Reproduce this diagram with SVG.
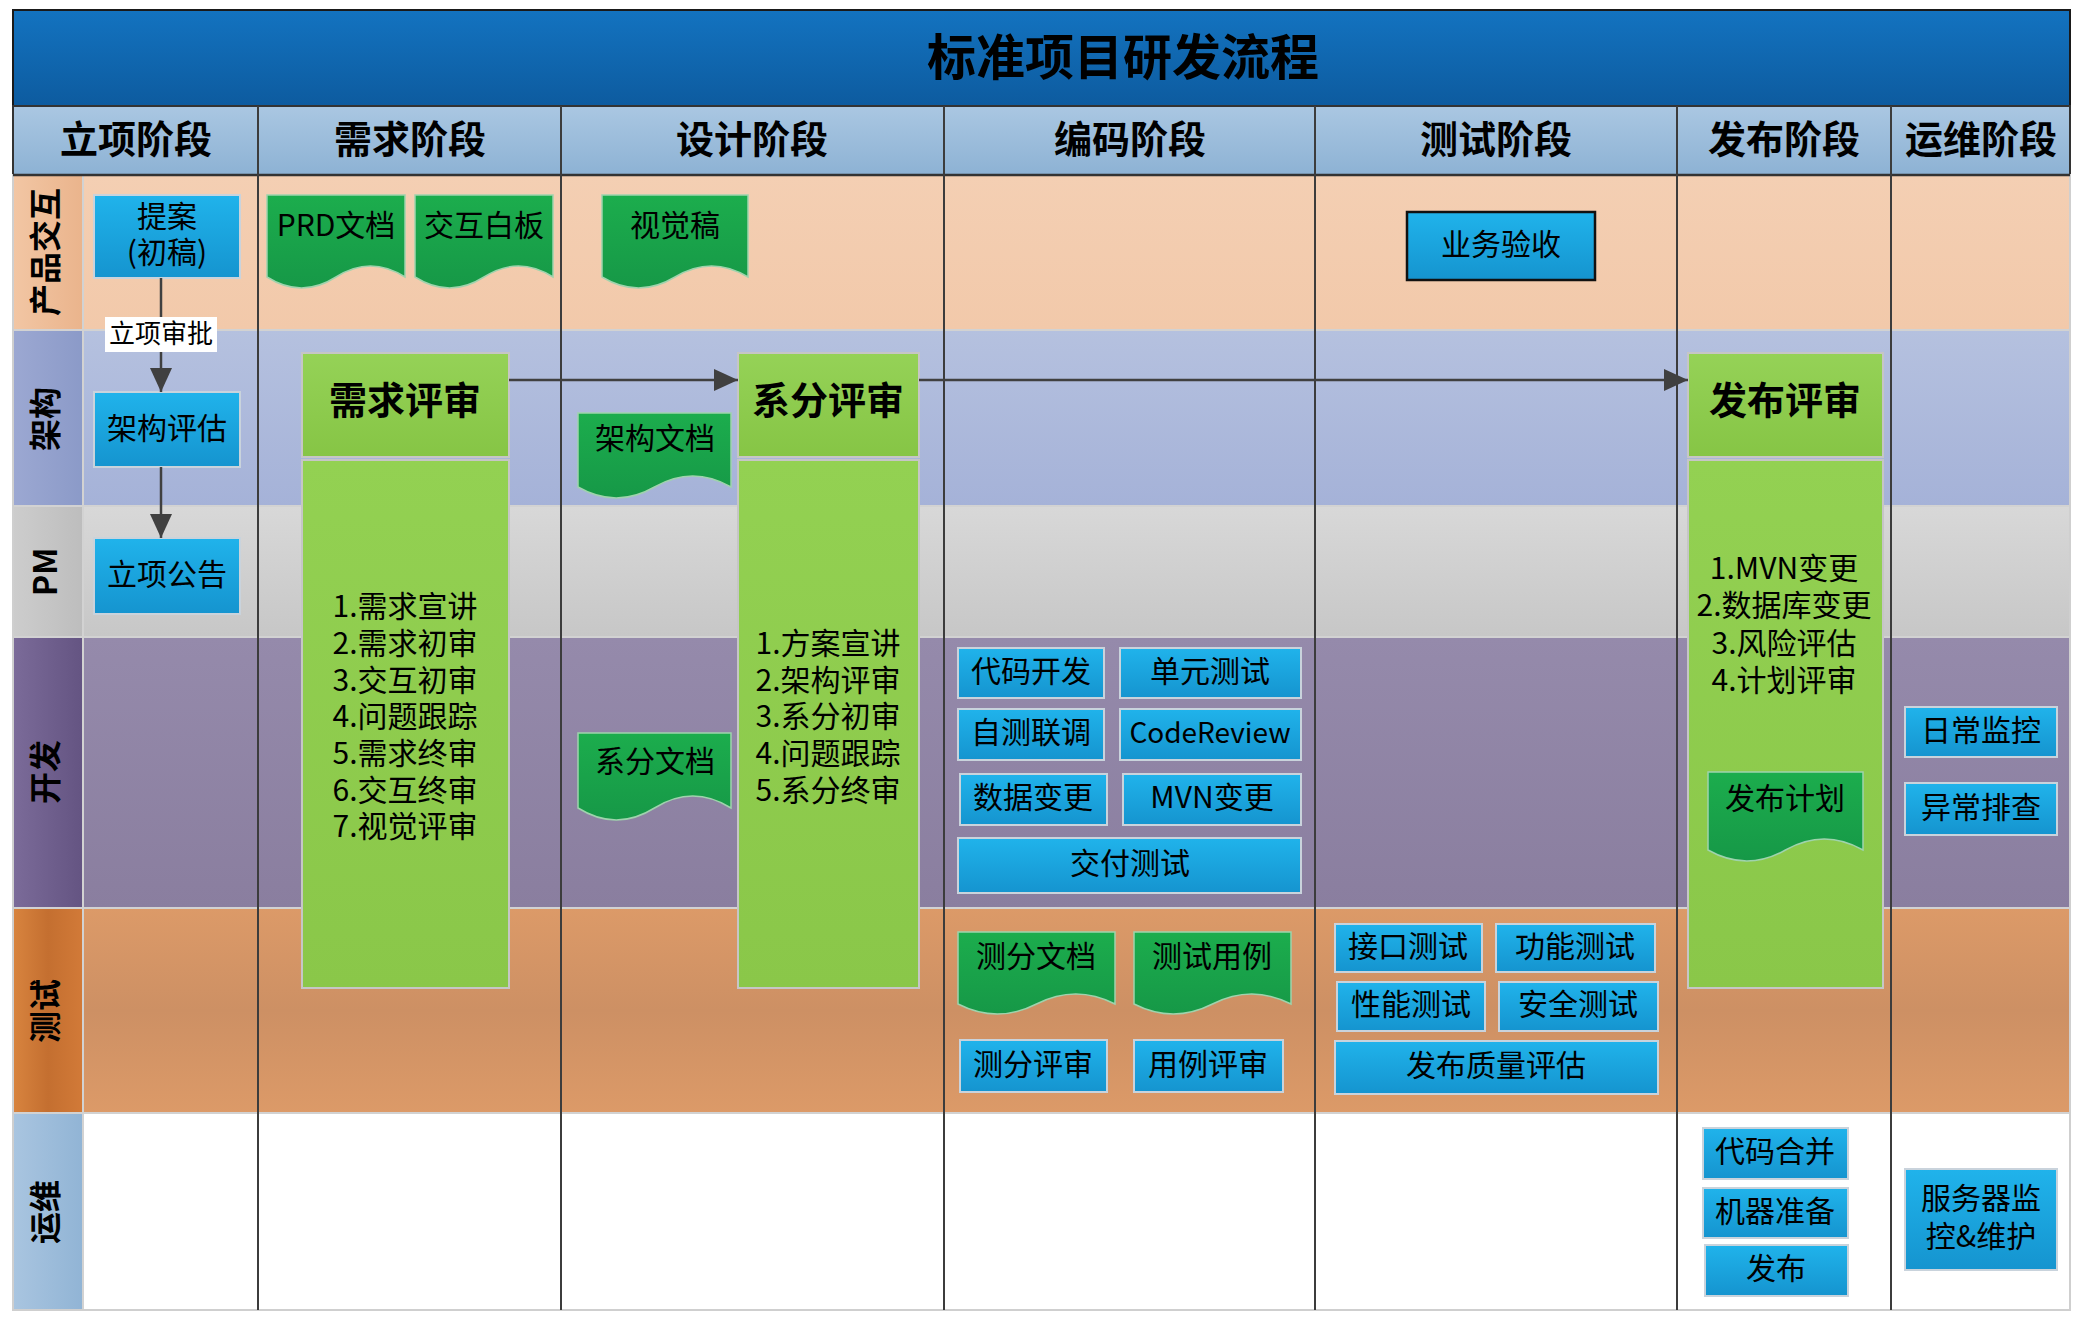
<svg xmlns="http://www.w3.org/2000/svg" width="2076" height="1318" viewBox="0 0 2076 1318">
<defs>
<linearGradient id="gTitle" x1="0" y1="0" x2="0" y2="1"><stop offset="0" stop-color="#1373c0"/><stop offset="1" stop-color="#0d5b9f"/></linearGradient>
<linearGradient id="gHead" x1="0" y1="0" x2="0" y2="1"><stop offset="0" stop-color="#aac7e2"/><stop offset="1" stop-color="#8db2d4"/></linearGradient>
<linearGradient id="gBlue" x1="0" y1="0" x2="0" y2="1"><stop offset="0" stop-color="#20b3eb"/><stop offset="1" stop-color="#1594cf"/></linearGradient>
<linearGradient id="gGreenH" x1="0" y1="0" x2="0" y2="1"><stop offset="0" stop-color="#95d257"/><stop offset="1" stop-color="#86c545"/></linearGradient>
<linearGradient id="gGreen" x1="0" y1="0" x2="0" y2="1"><stop offset="0" stop-color="#93d152"/><stop offset="1" stop-color="#8ac749"/></linearGradient>
<linearGradient id="gDoc" x1="0" y1="0" x2="0" y2="1"><stop offset="0" stop-color="#1cad4d"/><stop offset="1" stop-color="#169847"/></linearGradient>
<linearGradient id="gR1" x1="0" y1="0" x2="0" y2="1"><stop offset="0" stop-color="#f4cfb3"/><stop offset="1" stop-color="#f2c9aa"/></linearGradient>
<linearGradient id="gR2" x1="0" y1="0" x2="0" y2="1"><stop offset="0" stop-color="#b5c1df"/><stop offset="1" stop-color="#a5b2d8"/></linearGradient>
<linearGradient id="gR3" x1="0" y1="0" x2="0" y2="1"><stop offset="0" stop-color="#d8d8d8"/><stop offset="1" stop-color="#c7c7c7"/></linearGradient>
<linearGradient id="gR4" x1="0" y1="0" x2="0" y2="1"><stop offset="0" stop-color="#958aab"/><stop offset="1" stop-color="#8a7e9f"/></linearGradient>
<linearGradient id="gR5" x1="0" y1="0" x2="0" y2="1"><stop offset="0" stop-color="#dc9a68"/><stop offset="0.5" stop-color="#cd9064"/><stop offset="1" stop-color="#dc9a68"/></linearGradient>
<linearGradient id="gL1" x1="0" y1="0" x2="1" y2="0"><stop offset="0" stop-color="#f2c6a4"/><stop offset="1" stop-color="#eab48c"/></linearGradient>
<linearGradient id="gL2" x1="0" y1="0" x2="1" y2="0"><stop offset="0" stop-color="#9ca8d2"/><stop offset="1" stop-color="#8b9ac8"/></linearGradient>
<linearGradient id="gL3" x1="0" y1="0" x2="1" y2="0"><stop offset="0" stop-color="#cdcdcd"/><stop offset="1" stop-color="#bdbdbd"/></linearGradient>
<linearGradient id="gL4" x1="0" y1="0" x2="1" y2="0"><stop offset="0" stop-color="#7b6b99"/><stop offset="1" stop-color="#645482"/></linearGradient>
<linearGradient id="gL5" x1="0" y1="0" x2="1" y2="0"><stop offset="0" stop-color="#d8843f"/><stop offset="0.5" stop-color="#c46f30"/><stop offset="1" stop-color="#d27a38"/></linearGradient>
<linearGradient id="gL6" x1="0" y1="0" x2="1" y2="0"><stop offset="0" stop-color="#a9c5e0"/><stop offset="1" stop-color="#91b4d5"/></linearGradient>
<marker id="arr" markerUnits="userSpaceOnUse" markerWidth="24" markerHeight="22" refX="24" refY="11" orient="auto"><path d="M0,0 L24,11 L0,22 Z" fill="#404040"/></marker>
<style>
text{font-family:"Noto Sans CJK SC","Noto Sans",sans-serif;dominant-baseline:central;text-anchor:middle;fill:#000}
.title{font-size:49px;font-weight:bold}
.hd{font-size:38px;font-weight:bold}
.lane{font-size:32px;font-weight:bold}
.t{font-size:30px}
.gh{font-size:38px;font-weight:bold}
.lbl{font-size:26px}
.box{fill:url(#gBlue);stroke:#c9d3dc;stroke-width:2}
.boxk{fill:url(#gBlue);stroke:#111;stroke-width:2.5}
.doc{fill:url(#gDoc);stroke:#9fd3ad;stroke-width:1.5}
.gbh{fill:url(#gGreenH);stroke:#c6c6c6;stroke-width:2}
.gbb{fill:url(#gGreen);stroke:#c6c6c6;stroke-width:2}
.col{stroke:#3c3c3c;stroke-width:2}
.sep{stroke:#d2d2d2;stroke-width:2}
.con{stroke:#404040;stroke-width:2.5;fill:none}
</style>
</defs>

<g id="background">
<rect x="0" y="0" width="2076" height="1318" fill="#ffffff"/>
<rect x="13" y="10" width="2057" height="96" fill="url(#gTitle)" stroke="#1a1a1a" stroke-width="2"/>
<text class="title" x="1123" y="53">标准项目研发流程</text>
<rect x="13" y="106" width="2057" height="69" fill="url(#gHead)" stroke="#333" stroke-width="2"/>
<text class="hd" x="136" y="136">立项阶段</text>
<text class="hd" x="410" y="136">需求阶段</text>
<text class="hd" x="752" y="136">设计阶段</text>
<text class="hd" x="1130" y="136">编码阶段</text>
<text class="hd" x="1496" y="136">测试阶段</text>
<text class="hd" x="1784" y="136">发布阶段</text>
<text class="hd" x="1981" y="136">运维阶段</text>

<rect x="83" y="175" width="1987" height="155" fill="url(#gR1)"/>
<rect x="83" y="330" width="1987" height="176" fill="url(#gR2)"/>
<rect x="83" y="506" width="1987" height="131" fill="url(#gR3)"/>
<rect x="83" y="637" width="1987" height="271" fill="url(#gR4)"/>
<rect x="83" y="908" width="1987" height="205" fill="url(#gR5)"/>
<rect x="83" y="1113" width="1987" height="197" fill="#ffffff"/>

<rect x="13" y="175" width="70" height="155" fill="url(#gL1)"/>
<rect x="13" y="330" width="70" height="176" fill="url(#gL2)"/>
<rect x="13" y="506" width="70" height="131" fill="url(#gL3)"/>
<rect x="13" y="637" width="70" height="271" fill="url(#gL4)"/>
<rect x="13" y="908" width="70" height="205" fill="url(#gL5)"/>
<rect x="13" y="1113" width="70" height="197" fill="url(#gL6)"/>

<line class="sep" x1="13" y1="330" x2="2070" y2="330"/>
<line class="sep" x1="13" y1="506" x2="2070" y2="506"/>
<line class="sep" x1="13" y1="637" x2="2070" y2="637"/>
<line class="sep" x1="13" y1="908" x2="2070" y2="908"/>
<line class="sep" x1="13" y1="1113" x2="2070" y2="1113"/>
<line class="sep" x1="83" y1="175" x2="83" y2="1310"/>
<rect x="13" y="175" width="2057" height="1135" fill="none" stroke="#cfcfcf" stroke-width="2"/>
<line x1="13" y1="175" x2="2070" y2="175" stroke="#333" stroke-width="2.5"/>

<text class="lane" transform="translate(43,252) rotate(-90)">产品交互</text>
<text class="lane" transform="translate(43,419) rotate(-90)">架构</text>
<text class="lane" transform="translate(43,572) rotate(-90)">PM</text>
<text class="lane" transform="translate(43,772) rotate(-90)">开发</text>
<text class="lane" transform="translate(43,1011) rotate(-90)">测试</text>
<text class="lane" transform="translate(43,1212) rotate(-90)">运维</text>

<line class="col" x1="258" y1="106" x2="258" y2="1310"/>
<line class="col" x1="561" y1="106" x2="561" y2="1310"/>
<line class="col" x1="944" y1="106" x2="944" y2="1310"/>
<line class="col" x1="1315" y1="106" x2="1315" y2="1310"/>
<line class="col" x1="1677" y1="106" x2="1677" y2="1310"/>
<line class="col" x1="1891" y1="106" x2="1891" y2="1310"/>
</g>

<g id="n-proposal"><rect class="box" x="94" y="195" width="146" height="83"/><text class="t" x="167" y="214">提案</text><text class="t" x="167" y="250">(初稿)</text></g>
<g id="n-arch-eval"><rect class="box" x="94" y="392" width="146" height="75"/><text class="t" x="167" y="426">架构评估</text></g>
<g id="n-announce"><rect class="box" x="94" y="538" width="146" height="76"/><text class="t" x="167" y="572">立项公告</text></g>

<g id="n-prd"><path class="doc" d="M267,195 H405 V277 Q370.5,255 336,277 T267,277 Z"/><text class="t" x="336" y="223">PRD文档</text></g>
<g id="n-board"><path class="doc" d="M415,195 H553 V277 Q518.5,255 484,277 T415,277 Z"/><text class="t" x="484" y="223">交互白板</text></g>
<g id="n-req-review">
<rect class="gbh" x="302" y="353" width="207" height="104"/>
<rect class="gbb" x="302" y="460" width="207" height="528"/>
<text class="gh" x="405" y="397">需求评审</text>
<text class="t" x="405" y="604">1.需求宣讲</text>
<text class="t" x="405" y="641">2.需求初审</text>
<text class="t" x="405" y="678">3.交互初审</text>
<text class="t" x="405" y="714">4.问题跟踪</text>
<text class="t" x="405" y="751">5.需求终审</text>
<text class="t" x="405" y="788">6.交互终审</text>
<text class="t" x="405" y="824">7.视觉评审</text>
</g>

<g id="n-visual"><path class="doc" d="M602,195 H748 V277 Q711.5,255 675,277 T602,277 Z"/><text class="t" x="675" y="223">视觉稿</text></g>
<g id="n-arch-doc"><path class="doc" d="M578,413 H731 V487 Q692.75,465 654.5,487 T578,487 Z"/><text class="t" x="655" y="436">架构文档</text></g>
<g id="n-sys-doc"><path class="doc" d="M578,733 H731 V808 Q692.75,784 654.5,808 T578,808 Z"/><text class="t" x="655" y="759">系分文档</text></g>
<g id="n-sys-review">
<rect class="gbh" x="738" y="353" width="181" height="104"/>
<rect class="gbb" x="738" y="460" width="181" height="528"/>
<text class="gh" x="828" y="397">系分评审</text>
<text class="t" x="828" y="641">1.方案宣讲</text>
<text class="t" x="828" y="678">2.架构评审</text>
<text class="t" x="828" y="714">3.系分初审</text>
<text class="t" x="828" y="751">4.问题跟踪</text>
<text class="t" x="828" y="788">5.系分终审</text>
</g>

<g id="n-code"><rect class="box" x="958" y="648" width="146" height="50"/><text class="t" x="1031" y="669">代码开发</text></g>
<g id="n-unit"><rect class="box" x="1120" y="648" width="181" height="50"/><text class="t" x="1210" y="669">单元测试</text></g>
<g id="n-selftest"><rect class="box" x="958" y="709" width="146" height="51"/><text class="t" x="1031" y="730">自测联调</text></g>
<g id="n-codereview"><rect class="box" x="1120" y="709" width="181" height="51"/><text class="t" x="1210" y="731" style="font-size:28px">CodeReview</text></g>
<g id="n-data"><rect class="box" x="960" y="774" width="147" height="51"/><text class="t" x="1033" y="795">数据变更</text></g>
<g id="n-mvn"><rect class="box" x="1123" y="774" width="178" height="51"/><text class="t" x="1212" y="795">MVN变更</text></g>
<g id="n-deliver"><rect class="box" x="958" y="838" width="343" height="55"/><text class="t" x="1130" y="861">交付测试</text></g>
<g id="n-ts-doc"><path class="doc" d="M958,932 H1115 V1004 Q1075.75,984 1036.5,1004 T958,1004 Z"/><text class="t" x="1036" y="954">测分文档</text></g>
<g id="n-case-doc"><path class="doc" d="M1134,932 H1291 V1004 Q1251.75,984 1212.5,1004 T1134,1004 Z"/><text class="t" x="1212" y="954">测试用例</text></g>
<g id="n-ts-review"><rect class="box" x="960" y="1040" width="147" height="52"/><text class="t" x="1033" y="1062">测分评审</text></g>
<g id="n-case-review"><rect class="box" x="1134" y="1040" width="149" height="52"/><text class="t" x="1208" y="1062">用例评审</text></g>

<g id="n-accept"><rect class="boxk" x="1407" y="212" width="188" height="68"/><text class="t" x="1501" y="242">业务验收</text></g>
<g id="n-api"><rect class="box" x="1335" y="924" width="147" height="48"/><text class="t" x="1408" y="944">接口测试</text></g>
<g id="n-func"><rect class="box" x="1496" y="924" width="159" height="48"/><text class="t" x="1575" y="944">功能测试</text></g>
<g id="n-perf"><rect class="box" x="1337" y="982" width="148" height="49"/><text class="t" x="1411" y="1002">性能测试</text></g>
<g id="n-sec"><rect class="box" x="1499" y="982" width="159" height="49"/><text class="t" x="1578" y="1002">安全测试</text></g>
<g id="n-quality"><rect class="box" x="1335" y="1041" width="323" height="53"/><text class="t" x="1496" y="1063">发布质量评估</text></g>

<g id="n-rel-review">
<rect class="gbh" x="1688" y="353" width="195" height="104"/>
<rect class="gbb" x="1688" y="460" width="195" height="528"/>
<text class="gh" x="1785" y="397">发布评审</text>
<text class="t" x="1784" y="566">1.MVN变更</text>
<text class="t" x="1784" y="603">2.数据库变更</text>
<text class="t" x="1784" y="641">3.风险评估</text>
<text class="t" x="1784" y="678">4.计划评审</text>
</g>
<g id="n-rel-plan"><path class="doc" d="M1708,772 H1863 V850 Q1824.25,828 1785.5,850 T1708,850 Z"/><text class="t" x="1785" y="796">发布计划</text></g>
<g id="n-merge"><rect class="box" x="1703" y="1128" width="145" height="51"/><text class="t" x="1775" y="1149">代码合并</text></g>
<g id="n-machine"><rect class="box" x="1703" y="1188" width="145" height="50"/><text class="t" x="1775" y="1209">机器准备</text></g>
<g id="n-release"><rect class="box" x="1705" y="1245" width="143" height="51"/><text class="t" x="1776" y="1266">发布</text></g>

<g id="n-monitor"><rect class="box" x="1905" y="707" width="152" height="50"/><text class="t" x="1981" y="728">日常监控</text></g>
<g id="n-trouble"><rect class="box" x="1905" y="783" width="152" height="52"/><text class="t" x="1981" y="805">异常排查</text></g>
<g id="n-server"><rect class="box" x="1905" y="1169" width="152" height="101"/><text class="t" x="1981" y="1196">服务器监</text><text class="t" x="1981" y="1234">控&amp;维护</text></g>

<g id="connectors">
<line class="con" x1="161" y1="278" x2="161" y2="392" marker-end="url(#arr)"/>
<line class="con" x1="161" y1="467" x2="161" y2="538" marker-end="url(#arr)"/>
<line class="con" x1="509" y1="380" x2="738" y2="380" marker-end="url(#arr)"/>
<line class="con" x1="919" y1="380" x2="1688" y2="380" marker-end="url(#arr)"/>
<rect x="105" y="317" width="112" height="35" fill="#ffffff"/>
<text class="lbl" x="161" y="331">立项审批</text>
</g>
</svg>
